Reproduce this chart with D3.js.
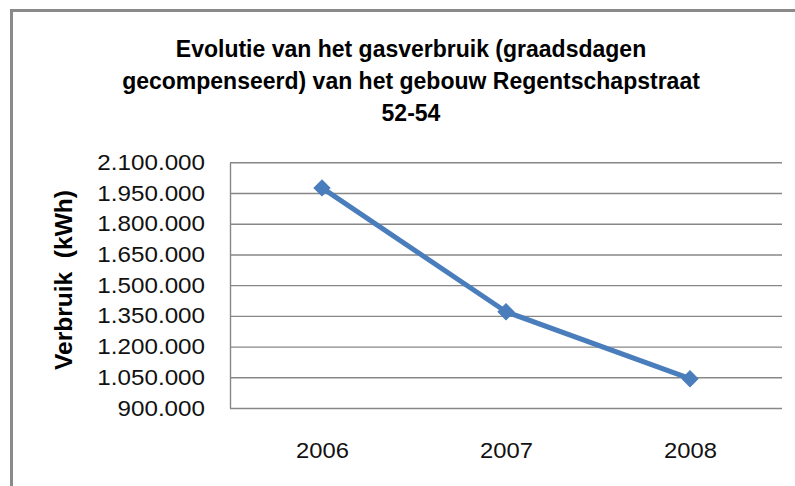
<!DOCTYPE html>
<html>
<head>
<meta charset="utf-8">
<script src="https://cdn.jsdelivr.net/npm/d3@7"></script>
<style>
  body { margin: 0; background: #fff; }
  svg { display: block; }
</style>
</head>
<body>
<svg width="795" height="486"></svg>
<script>
// Data
var years = ["2006", "2007", "2008"];
var verbruik = [1975000, 1370000, 1043000];   // kWh
var yTicks = [900000, 1050000, 1200000, 1350000, 1500000, 1650000, 1800000, 1950000, 2100000];
var titleLines = [
  "Evolutie van het gasverbruik (graadsdagen",
  "gecompenseerd) van het gebouw Regentschapstraat",
  "52-54"
];
var yTitle = "Verbruik  (kWh)";

var svg = d3.select("svg"),
    width = +svg.attr("width"),
    height = +svg.attr("height");

var font = "'Liberation Sans', Arial, sans-serif";
var lineColor = "#4a7dbb";
var gridColor = "#878787";

// plot area
var plotLeft = 230, plotRight = 782, plotTop = 162.3, plotBottom = 408;

// dutch number format (1.950.000)
var nl = d3.formatLocale({ decimal: ",", thousands: ".", grouping: [3], currency: ["€", ""] });
var fmt = nl.format(",d");

var x = d3.scalePoint()
    .domain(years)
    .range([plotLeft, plotRight])
    .padding(0.5);

var y = d3.scaleLinear()
    .domain([900000, 2100000])
    .range([plotBottom, plotTop]);

// outer chart border (only top and left show in the crop)
svg.append("rect")
    .attr("x", 11.5)
    .attr("y", 10.5)
    .attr("width", 900)
    .attr("height", 600)
    .attr("fill", "none")
    .attr("stroke", "#8a8a8a")
    .attr("stroke-width", 3);

// title
svg.append("g")
    .selectAll("text")
    .data(titleLines)
    .enter()
    .append("text")
    .attr("x", 411)
    .attr("y", function(d, i) { return 57 + i * 32; })
    .attr("text-anchor", "middle")
    .style("font-family", font)
    .style("font-weight", "bold")
    .style("font-size", "23px")
    .style("fill", "#000")
    .text(function(d) { return d; });

// y axis with gridlines
var yAxis = svg.append("g")
    .attr("transform", "translate(" + plotLeft + ",0)")
    .call(d3.axisLeft(y)
        .tickValues(yTicks)
        .tickFormat(fmt)
        .tickSizeInner(-(plotRight - plotLeft))
        .tickSizeOuter(0)
        .tickPadding(25));

yAxis.select(".domain")
    .attr("stroke", gridColor)
    .attr("stroke-width", 1.4);

yAxis.selectAll(".tick line")
    .attr("stroke", gridColor)
    .attr("stroke-width", 1.4);

yAxis.selectAll(".tick text")
    .style("font-family", font)
    .style("font-size", "22px")
    .style("fill", "#111")
    .each(function() {
        var w = this.getComputedTextLength();
        d3.select(this).attr("textLength", w * 1.1).attr("lengthAdjust", "spacingAndGlyphs");
    });

// x axis labels
var xAxis = svg.append("g")
    .attr("transform", "translate(0," + plotBottom + ")")
    .call(d3.axisBottom(x).tickSize(0));

xAxis.select(".domain").remove();

xAxis.selectAll(".tick text")
    .attr("y", 50)
    .attr("dy", 0)
    .style("font-family", font)
    .style("font-size", "22px")
    .style("fill", "#111")
    .each(function() {
        var w = this.getComputedTextLength();
        d3.select(this).attr("textLength", w * 1.08).attr("lengthAdjust", "spacingAndGlyphs");
    });

// y axis title
svg.append("text")
    .attr("transform", "translate(72,280) rotate(-90)")
    .attr("text-anchor", "middle")
    .style("font-family", font)
    .style("font-weight", "bold")
    .style("font-size", "23px")
    .style("fill", "#000")
    .style("white-space", "pre")
    .attr("textLength", 180)
    .attr("lengthAdjust", "spacingAndGlyphs")
    .text(yTitle);

// the line
var points = years.map(function(d, i) { return { year: d, value: verbruik[i] }; });

svg.append("path")
    .datum(points)
    .attr("fill", "none")
    .attr("stroke", lineColor)
    .attr("stroke-width", 5)
    .attr("stroke-linejoin", "round")
    .attr("d", d3.line()
        .x(function(d) { return x(d.year); })
        .y(function(d) { return y(d.value); }));

// diamond markers
svg.selectAll("myMarkers")
    .data(points)
    .enter()
    .append("path")
    .attr("d", d3.symbol().type(d3.symbolSquare).size(128))
    .attr("transform", function(d) {
        return "translate(" + x(d.year) + "," + y(d.value) + ") rotate(45)";
    })
    .attr("fill", lineColor)
    .attr("stroke", lineColor)
    .attr("stroke-width", 1);
</script>
</body>
</html>
